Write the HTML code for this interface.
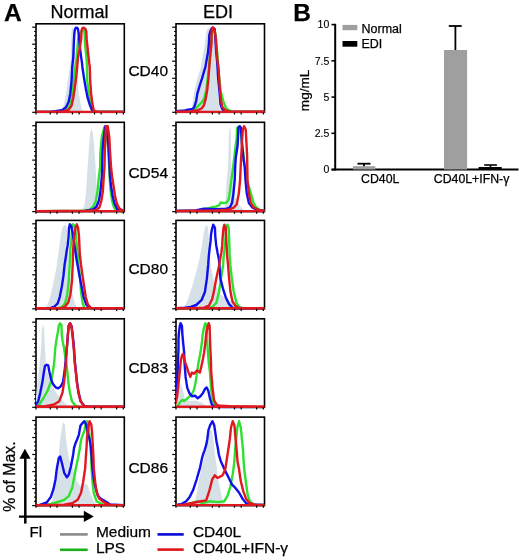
<!DOCTYPE html>
<html><head><meta charset="utf-8"><style>
html,body{margin:0;padding:0;background:#fff;}
body{width:520px;height:557px;overflow:hidden;}
svg{display:block;font-family:"Liberation Sans", sans-serif;filter:blur(0.3px);}
text{stroke:#000;stroke-width:0.25px;}
</style></head><body>
<svg width="520" height="557" viewBox="0 0 520 557">
<rect width="520" height="557" fill="#fff"/>
<clipPath id="c00"><rect x="36.0" y="23.8" width="88.3" height="89.9"/></clipPath>
<rect x="36.0" y="23.8" width="88.3" height="88.5" fill="none" stroke="#000" stroke-width="1.6"/>
<g clip-path="url(#c00)">
<polygon points="58.6,111.5 58.6,111.5 60.8,111.0 63.4,106.5 66.0,93.4 68.6,75.3 70.6,60.2 71.1,40.1 71.6,29.0 72.6,28.0 74.1,32.0 75.1,45.1 76.1,67.2 77.6,80.3 78.8,93.4 80.1,100.4 81.6,109.0 83.6,111.5 83.6,111.5" fill="#d6e1e7"/>
<polyline points="36.6,111.9 60.6,111.7 64.3,110.8 67.7,109.0 70.7,103.8 72.5,93.4 73.8,80.3 75.4,67.2 76.8,56.8 77.7,43.7 78.5,37.7 80.3,33.3 81.6,30.7 82.8,28.9 83.3,28.5 84.6,33.3 85.0,43.7 85.9,52.5 86.7,61.1 87.0,67.2 87.2,80.3 88.9,93.4 90.6,103.8 91.9,109.9 93.6,111.5 124.6,111.9" fill="none" stroke="#30e030" stroke-width="2.4" stroke-linejoin="round"/>
<polyline points="36.6,111.9 50.6,111.7 55.6,111.2 58.2,110.8 62.5,109.9 66.0,107.3 68.6,102.0 70.3,93.4 71.6,80.3 72.2,67.2 73.3,56.8 73.8,43.7 74.2,35.1 74.8,29.8 75.9,27.6 76.8,27.6 77.9,28.9 78.5,32.4 79.1,39.4 80.0,48.1 81.1,56.8 82.0,62.9 82.4,67.2 84.1,78.5 85.9,89.0 87.6,97.7 89.8,104.7 91.9,109.9 92.8,111.2 95.6,111.9 124.6,111.9" fill="none" stroke="#1010ec" stroke-width="2.4" stroke-linejoin="round"/>
<polyline points="36.6,111.9 60.6,111.8 64.3,111.2 68.6,109.9 71.6,105.6 73.3,97.7 74.6,89.0 76.4,76.0 77.2,67.2 78.1,56.8 79.8,48.1 81.1,39.4 81.6,30.7 82.4,28.1 83.7,27.6 85.4,28.9 86.3,31.5 86.7,39.4 87.6,48.1 88.5,56.8 89.3,63.7 89.8,67.2 90.2,80.3 91.1,93.4 92.4,103.8 93.7,109.9 95.4,111.2 97.6,111.9 125.6,111.9" fill="none" stroke="#e01820" stroke-width="2.4" stroke-linejoin="round"/>
<line x1="36.0" y1="111.9" x2="124.3" y2="111.9" stroke="#e01820" stroke-width="2.4"/>
</g>
<line x1="32.2" y1="112.3" x2="36.0" y2="112.3" stroke="#000" stroke-width="1.2"/>
<line x1="34.1" y1="108.0" x2="36.0" y2="108.0" stroke="#000" stroke-width="1.2"/>
<line x1="34.1" y1="103.8" x2="36.0" y2="103.8" stroke="#000" stroke-width="1.2"/>
<line x1="34.1" y1="99.5" x2="36.0" y2="99.5" stroke="#000" stroke-width="1.2"/>
<line x1="32.2" y1="95.3" x2="36.0" y2="95.3" stroke="#000" stroke-width="1.2"/>
<line x1="34.1" y1="91.0" x2="36.0" y2="91.0" stroke="#000" stroke-width="1.2"/>
<line x1="34.1" y1="86.8" x2="36.0" y2="86.8" stroke="#000" stroke-width="1.2"/>
<line x1="34.1" y1="82.5" x2="36.0" y2="82.5" stroke="#000" stroke-width="1.2"/>
<line x1="32.2" y1="78.3" x2="36.0" y2="78.3" stroke="#000" stroke-width="1.2"/>
<line x1="34.1" y1="74.0" x2="36.0" y2="74.0" stroke="#000" stroke-width="1.2"/>
<line x1="34.1" y1="69.8" x2="36.0" y2="69.8" stroke="#000" stroke-width="1.2"/>
<line x1="34.1" y1="65.5" x2="36.0" y2="65.5" stroke="#000" stroke-width="1.2"/>
<line x1="32.2" y1="61.2" x2="36.0" y2="61.2" stroke="#000" stroke-width="1.2"/>
<line x1="34.1" y1="57.0" x2="36.0" y2="57.0" stroke="#000" stroke-width="1.2"/>
<line x1="34.1" y1="52.7" x2="36.0" y2="52.7" stroke="#000" stroke-width="1.2"/>
<line x1="34.1" y1="48.5" x2="36.0" y2="48.5" stroke="#000" stroke-width="1.2"/>
<line x1="32.2" y1="44.2" x2="36.0" y2="44.2" stroke="#000" stroke-width="1.2"/>
<line x1="34.1" y1="40.0" x2="36.0" y2="40.0" stroke="#000" stroke-width="1.2"/>
<line x1="34.1" y1="35.7" x2="36.0" y2="35.7" stroke="#000" stroke-width="1.2"/>
<line x1="34.1" y1="31.5" x2="36.0" y2="31.5" stroke="#000" stroke-width="1.2"/>
<line x1="32.2" y1="27.2" x2="36.0" y2="27.2" stroke="#000" stroke-width="1.2"/>
<line x1="36.0" y1="112.3" x2="36.0" y2="114.5" stroke="#000" stroke-width="1.2"/>
<line x1="50.3" y1="112.3" x2="50.3" y2="114.5" stroke="#000" stroke-width="1.2"/>
<line x1="57.0" y1="112.3" x2="57.0" y2="114.5" stroke="#000" stroke-width="1.2"/>
<line x1="72.4" y1="112.3" x2="72.4" y2="114.5" stroke="#000" stroke-width="1.2"/>
<line x1="79.1" y1="112.3" x2="79.1" y2="114.5" stroke="#000" stroke-width="1.2"/>
<line x1="94.5" y1="112.3" x2="94.5" y2="114.5" stroke="#000" stroke-width="1.2"/>
<line x1="101.2" y1="112.3" x2="101.2" y2="114.5" stroke="#000" stroke-width="1.2"/>
<line x1="116.6" y1="112.3" x2="116.6" y2="114.5" stroke="#000" stroke-width="1.2"/>
<line x1="123.3" y1="112.3" x2="123.3" y2="114.5" stroke="#000" stroke-width="1.2"/>
<clipPath id="c01"><rect x="36.0" y="122.3" width="88.3" height="90.7"/></clipPath>
<rect x="36.0" y="122.3" width="88.3" height="89.3" fill="none" stroke="#000" stroke-width="1.6"/>
<g clip-path="url(#c01)">
<polygon points="80.0,210.8 80.0,210.8 83.0,207.9 84.1,206.8 85.8,195.0 87.4,170.0 88.5,155.3 89.1,145.0 90.2,133.1 91.6,128.9 92.8,133.1 94.0,145.0 95.0,158.4 95.7,170.0 97.4,195.0 98.2,206.8 99.5,210.8 100.5,210.8 100.5,210.8" fill="#d6e1e7"/>
<polyline points="36.0,211.2 84.6,210.7 89.4,209.7 92.8,207.3 95.7,201.5 97.6,190.7 99.0,176.1 100.2,166.4 100.3,155.9 100.8,147.3 101.6,138.5 103.0,132.1 104.5,127.0 105.6,126.2 106.8,127.0 107.3,138.2 108.0,147.3 108.6,157.4 109.2,166.4 109.6,176.1 110.6,190.7 112.0,200.5 113.9,207.3 116.3,210.2 118.3,211.1 124.0,211.2" fill="none" stroke="#30e030" stroke-width="2.4" stroke-linejoin="round"/>
<polyline points="36.0,211.2 85.0,210.9 89.4,210.2 93.8,209.2 96.6,206.3 99.0,200.5 100.5,190.7 101.9,176.1 102.2,166.4 102.3,160.4 102.5,151.6 103.4,140.2 104.2,134.1 105.1,126.6 106.2,126.0 107.2,127.0 107.7,138.5 108.5,147.3 109.2,157.7 109.5,166.4 110.0,176.1 111.0,185.8 112.5,195.5 114.4,203.3 117.3,209.2 120.2,210.7 124.0,211.2" fill="none" stroke="#1010ec" stroke-width="2.4" stroke-linejoin="round"/>
<polyline points="36.0,211.2 89.4,210.8 96.2,210.2 99.5,207.3 101.4,200.5 102.9,190.7 103.8,176.1 104.5,166.4 104.7,155.9 104.9,147.3 105.5,134.1 106.0,126.2 107.7,126.2 108.5,131.5 109.4,138.5 109.8,147.3 110.3,155.9 111.0,166.4 112.0,176.1 113.5,185.8 114.9,195.5 116.8,203.3 119.2,208.2 122.1,210.2 124.5,211.2" fill="none" stroke="#e01820" stroke-width="2.4" stroke-linejoin="round"/>
<line x1="36.0" y1="211.1" x2="124.3" y2="211.1" stroke="#e01820" stroke-width="2.4"/>
</g>
<line x1="32.2" y1="211.6" x2="36.0" y2="211.6" stroke="#000" stroke-width="1.2"/>
<line x1="34.1" y1="207.3" x2="36.0" y2="207.3" stroke="#000" stroke-width="1.2"/>
<line x1="34.1" y1="203.0" x2="36.0" y2="203.0" stroke="#000" stroke-width="1.2"/>
<line x1="34.1" y1="198.7" x2="36.0" y2="198.7" stroke="#000" stroke-width="1.2"/>
<line x1="32.2" y1="194.4" x2="36.0" y2="194.4" stroke="#000" stroke-width="1.2"/>
<line x1="34.1" y1="190.1" x2="36.0" y2="190.1" stroke="#000" stroke-width="1.2"/>
<line x1="34.1" y1="185.8" x2="36.0" y2="185.8" stroke="#000" stroke-width="1.2"/>
<line x1="34.1" y1="181.5" x2="36.0" y2="181.5" stroke="#000" stroke-width="1.2"/>
<line x1="32.2" y1="177.2" x2="36.0" y2="177.2" stroke="#000" stroke-width="1.2"/>
<line x1="34.1" y1="172.9" x2="36.0" y2="172.9" stroke="#000" stroke-width="1.2"/>
<line x1="34.1" y1="168.6" x2="36.0" y2="168.6" stroke="#000" stroke-width="1.2"/>
<line x1="34.1" y1="164.4" x2="36.0" y2="164.4" stroke="#000" stroke-width="1.2"/>
<line x1="32.2" y1="160.1" x2="36.0" y2="160.1" stroke="#000" stroke-width="1.2"/>
<line x1="34.1" y1="155.8" x2="36.0" y2="155.8" stroke="#000" stroke-width="1.2"/>
<line x1="34.1" y1="151.5" x2="36.0" y2="151.5" stroke="#000" stroke-width="1.2"/>
<line x1="34.1" y1="147.2" x2="36.0" y2="147.2" stroke="#000" stroke-width="1.2"/>
<line x1="32.2" y1="142.9" x2="36.0" y2="142.9" stroke="#000" stroke-width="1.2"/>
<line x1="34.1" y1="138.6" x2="36.0" y2="138.6" stroke="#000" stroke-width="1.2"/>
<line x1="34.1" y1="134.3" x2="36.0" y2="134.3" stroke="#000" stroke-width="1.2"/>
<line x1="34.1" y1="130.0" x2="36.0" y2="130.0" stroke="#000" stroke-width="1.2"/>
<line x1="32.2" y1="125.7" x2="36.0" y2="125.7" stroke="#000" stroke-width="1.2"/>
<line x1="36.0" y1="211.6" x2="36.0" y2="213.79999999999998" stroke="#000" stroke-width="1.2"/>
<line x1="50.3" y1="211.6" x2="50.3" y2="213.79999999999998" stroke="#000" stroke-width="1.2"/>
<line x1="57.0" y1="211.6" x2="57.0" y2="213.79999999999998" stroke="#000" stroke-width="1.2"/>
<line x1="72.4" y1="211.6" x2="72.4" y2="213.79999999999998" stroke="#000" stroke-width="1.2"/>
<line x1="79.1" y1="211.6" x2="79.1" y2="213.79999999999998" stroke="#000" stroke-width="1.2"/>
<line x1="94.5" y1="211.6" x2="94.5" y2="213.79999999999998" stroke="#000" stroke-width="1.2"/>
<line x1="101.2" y1="211.6" x2="101.2" y2="213.79999999999998" stroke="#000" stroke-width="1.2"/>
<line x1="116.6" y1="211.6" x2="116.6" y2="213.79999999999998" stroke="#000" stroke-width="1.2"/>
<line x1="123.3" y1="211.6" x2="123.3" y2="213.79999999999998" stroke="#000" stroke-width="1.2"/>
<clipPath id="c02"><rect x="36.0" y="220.4" width="88.3" height="89.80000000000001"/></clipPath>
<rect x="36.0" y="220.4" width="88.3" height="88.4" fill="none" stroke="#000" stroke-width="1.6"/>
<g clip-path="url(#c02)">
<polygon points="44.0,308.0 44.0,308.0 47.3,305.2 49.7,298.6 52.9,285.5 56.1,269.1 58.5,252.8 61.0,233.1 63.0,226.6 64.6,224.7 66.5,226.1 67.5,236.2 68.3,250.4 69.0,264.7 70.5,280.9 73.0,296.1 75.0,303.2 77.0,307.6 79.0,308.0 79.0,308.0" fill="#d6e1e7"/>
<polyline points="36.0,308.3 55.0,308.3 57.7,308.1 61.9,307.1 65.1,303.3 67.2,294.7 68.8,280.8 69.7,264.7 70.3,249.7 71.2,240.9 72.1,229.5 72.9,224.3 73.8,224.9 75.1,227.8 76.0,236.5 76.8,245.4 77.7,254.1 78.5,264.7 79.9,275.4 81.0,291.5 82.5,302.2 84.1,307.6 86.0,308.3 124.0,308.3" fill="none" stroke="#30e030" stroke-width="2.4" stroke-linejoin="round"/>
<polyline points="36.0,308.3 45.0,308.2 50.3,308.1 54.5,306.5 57.7,303.3 59.8,296.8 61.9,286.2 63.5,275.4 64.6,264.7 66.0,255.8 66.9,249.7 67.7,245.4 68.6,236.5 69.0,227.8 69.9,224.3 71.2,226.0 72.5,232.2 73.8,240.9 75.1,249.7 76.4,258.5 77.5,264.7 79.4,275.4 81.5,286.2 83.6,296.8 86.2,304.3 89.4,307.6 92.0,308.3 124.0,308.3" fill="none" stroke="#1010ec" stroke-width="2.4" stroke-linejoin="round"/>
<polyline points="36.0,308.3 58.0,308.3 60.9,308.1 65.1,306.5 68.3,302.2 70.4,294.7 72.0,280.8 72.7,264.7 72.9,254.1 73.4,245.4 74.2,236.5 75.5,227.8 76.8,224.3 78.1,227.8 79.0,236.5 79.4,245.4 79.8,254.1 81.0,264.7 82.5,275.4 84.1,286.2 85.7,296.8 87.8,304.3 90.5,307.6 93.0,308.3 124.5,308.3" fill="none" stroke="#e01820" stroke-width="2.4" stroke-linejoin="round"/>
<line x1="36.0" y1="308.3" x2="124.3" y2="308.3" stroke="#e01820" stroke-width="2.4"/>
</g>
<line x1="32.2" y1="308.8" x2="36.0" y2="308.8" stroke="#000" stroke-width="1.2"/>
<line x1="34.1" y1="304.6" x2="36.0" y2="304.6" stroke="#000" stroke-width="1.2"/>
<line x1="34.1" y1="300.3" x2="36.0" y2="300.3" stroke="#000" stroke-width="1.2"/>
<line x1="34.1" y1="296.1" x2="36.0" y2="296.1" stroke="#000" stroke-width="1.2"/>
<line x1="32.2" y1="291.8" x2="36.0" y2="291.8" stroke="#000" stroke-width="1.2"/>
<line x1="34.1" y1="287.6" x2="36.0" y2="287.6" stroke="#000" stroke-width="1.2"/>
<line x1="34.1" y1="283.3" x2="36.0" y2="283.3" stroke="#000" stroke-width="1.2"/>
<line x1="34.1" y1="279.1" x2="36.0" y2="279.1" stroke="#000" stroke-width="1.2"/>
<line x1="32.2" y1="274.8" x2="36.0" y2="274.8" stroke="#000" stroke-width="1.2"/>
<line x1="34.1" y1="270.6" x2="36.0" y2="270.6" stroke="#000" stroke-width="1.2"/>
<line x1="34.1" y1="266.3" x2="36.0" y2="266.3" stroke="#000" stroke-width="1.2"/>
<line x1="34.1" y1="262.1" x2="36.0" y2="262.1" stroke="#000" stroke-width="1.2"/>
<line x1="32.2" y1="257.8" x2="36.0" y2="257.8" stroke="#000" stroke-width="1.2"/>
<line x1="34.1" y1="253.6" x2="36.0" y2="253.6" stroke="#000" stroke-width="1.2"/>
<line x1="34.1" y1="249.3" x2="36.0" y2="249.3" stroke="#000" stroke-width="1.2"/>
<line x1="34.1" y1="245.1" x2="36.0" y2="245.1" stroke="#000" stroke-width="1.2"/>
<line x1="32.2" y1="240.8" x2="36.0" y2="240.8" stroke="#000" stroke-width="1.2"/>
<line x1="34.1" y1="236.6" x2="36.0" y2="236.6" stroke="#000" stroke-width="1.2"/>
<line x1="34.1" y1="232.3" x2="36.0" y2="232.3" stroke="#000" stroke-width="1.2"/>
<line x1="34.1" y1="228.1" x2="36.0" y2="228.1" stroke="#000" stroke-width="1.2"/>
<line x1="32.2" y1="223.8" x2="36.0" y2="223.8" stroke="#000" stroke-width="1.2"/>
<line x1="36.0" y1="308.8" x2="36.0" y2="311.0" stroke="#000" stroke-width="1.2"/>
<line x1="50.3" y1="308.8" x2="50.3" y2="311.0" stroke="#000" stroke-width="1.2"/>
<line x1="57.0" y1="308.8" x2="57.0" y2="311.0" stroke="#000" stroke-width="1.2"/>
<line x1="72.4" y1="308.8" x2="72.4" y2="311.0" stroke="#000" stroke-width="1.2"/>
<line x1="79.1" y1="308.8" x2="79.1" y2="311.0" stroke="#000" stroke-width="1.2"/>
<line x1="94.5" y1="308.8" x2="94.5" y2="311.0" stroke="#000" stroke-width="1.2"/>
<line x1="101.2" y1="308.8" x2="101.2" y2="311.0" stroke="#000" stroke-width="1.2"/>
<line x1="116.6" y1="308.8" x2="116.6" y2="311.0" stroke="#000" stroke-width="1.2"/>
<line x1="123.3" y1="308.8" x2="123.3" y2="311.0" stroke="#000" stroke-width="1.2"/>
<clipPath id="c03"><rect x="36.0" y="318.8" width="88.3" height="89.9"/></clipPath>
<rect x="36.0" y="318.8" width="88.3" height="88.5" fill="none" stroke="#000" stroke-width="1.6"/>
<g clip-path="url(#c03)">
<polygon points="36.0,406.5 36.0,406.5 36.0,396.0 37.5,380.8 39.8,362.5 41.1,347.7 41.9,330.1 43.0,323.3 44.1,330.1 45.0,347.7 45.8,362.5 47.0,370.6 50.0,380.8 55.0,390.9 60.0,398.0 65.0,403.1 70.0,406.5 72.0,406.5 72.0,406.5" fill="#d6e1e7"/>
<polyline points="36.0,406.8 37.1,406.6 39.2,404.5 43.5,398.0 47.7,390.5 50.9,382.0 53.0,371.3 54.3,361.5 55.3,347.7 56.6,338.9 57.9,331.9 58.8,325.8 60.1,323.2 61.4,324.9 61.8,334.5 62.7,341.5 64.0,347.7 64.8,353.7 66.2,361.5 67.3,371.3 68.3,382.0 69.9,392.6 72.0,401.2 75.2,405.5 79.4,406.9 124.0,406.9" fill="none" stroke="#30e030" stroke-width="2.4" stroke-linejoin="round"/>
<polyline points="35.5,405.5 38.2,401.2 40.3,392.6 42.4,382.0 44.0,371.3 45.0,365.9 46.6,364.8 48.2,365.4 49.3,371.3 50.9,378.7 53.0,384.1 55.6,387.3 58.3,388.4 60.9,386.2 63.0,382.0 64.6,371.3 65.7,360.5 66.6,350.3 67.4,341.5 67.9,334.5 68.7,325.8 70.0,323.2 71.5,325.8 72.5,332.8 73.4,341.5 74.2,350.3 74.8,360.5 75.9,371.3 77.0,382.0 78.6,392.6 80.7,401.2 83.9,405.5 86.8,406.8 124.0,406.8" fill="none" stroke="#1010ec" stroke-width="2.4" stroke-linejoin="round"/>
<polyline points="36.0,406.8 45.6,406.1 54.0,404.5 59.3,401.2 62.5,392.6 64.1,382.0 65.1,371.3 66.0,361.5 66.6,350.3 67.4,341.5 67.9,334.5 68.7,325.8 70.0,323.2 71.3,325.8 72.2,332.8 73.1,341.5 73.9,350.3 74.6,361.5 75.7,371.3 76.8,382.0 78.4,392.6 80.5,401.2 83.7,405.5 86.8,406.8 124.5,406.8" fill="none" stroke="#e01820" stroke-width="2.4" stroke-linejoin="round"/>
<line x1="36.0" y1="406.8" x2="124.3" y2="406.8" stroke="#e01820" stroke-width="2.4"/>
</g>
<line x1="32.2" y1="407.3" x2="36.0" y2="407.3" stroke="#000" stroke-width="1.2"/>
<line x1="34.1" y1="403.0" x2="36.0" y2="403.0" stroke="#000" stroke-width="1.2"/>
<line x1="34.1" y1="398.8" x2="36.0" y2="398.8" stroke="#000" stroke-width="1.2"/>
<line x1="34.1" y1="394.5" x2="36.0" y2="394.5" stroke="#000" stroke-width="1.2"/>
<line x1="32.2" y1="390.3" x2="36.0" y2="390.3" stroke="#000" stroke-width="1.2"/>
<line x1="34.1" y1="386.0" x2="36.0" y2="386.0" stroke="#000" stroke-width="1.2"/>
<line x1="34.1" y1="381.8" x2="36.0" y2="381.8" stroke="#000" stroke-width="1.2"/>
<line x1="34.1" y1="377.5" x2="36.0" y2="377.5" stroke="#000" stroke-width="1.2"/>
<line x1="32.2" y1="373.3" x2="36.0" y2="373.3" stroke="#000" stroke-width="1.2"/>
<line x1="34.1" y1="369.0" x2="36.0" y2="369.0" stroke="#000" stroke-width="1.2"/>
<line x1="34.1" y1="364.8" x2="36.0" y2="364.8" stroke="#000" stroke-width="1.2"/>
<line x1="34.1" y1="360.5" x2="36.0" y2="360.5" stroke="#000" stroke-width="1.2"/>
<line x1="32.2" y1="356.2" x2="36.0" y2="356.2" stroke="#000" stroke-width="1.2"/>
<line x1="34.1" y1="352.0" x2="36.0" y2="352.0" stroke="#000" stroke-width="1.2"/>
<line x1="34.1" y1="347.7" x2="36.0" y2="347.7" stroke="#000" stroke-width="1.2"/>
<line x1="34.1" y1="343.5" x2="36.0" y2="343.5" stroke="#000" stroke-width="1.2"/>
<line x1="32.2" y1="339.2" x2="36.0" y2="339.2" stroke="#000" stroke-width="1.2"/>
<line x1="34.1" y1="335.0" x2="36.0" y2="335.0" stroke="#000" stroke-width="1.2"/>
<line x1="34.1" y1="330.7" x2="36.0" y2="330.7" stroke="#000" stroke-width="1.2"/>
<line x1="34.1" y1="326.5" x2="36.0" y2="326.5" stroke="#000" stroke-width="1.2"/>
<line x1="32.2" y1="322.2" x2="36.0" y2="322.2" stroke="#000" stroke-width="1.2"/>
<line x1="36.0" y1="407.3" x2="36.0" y2="409.5" stroke="#000" stroke-width="1.2"/>
<line x1="50.3" y1="407.3" x2="50.3" y2="409.5" stroke="#000" stroke-width="1.2"/>
<line x1="57.0" y1="407.3" x2="57.0" y2="409.5" stroke="#000" stroke-width="1.2"/>
<line x1="72.4" y1="407.3" x2="72.4" y2="409.5" stroke="#000" stroke-width="1.2"/>
<line x1="79.1" y1="407.3" x2="79.1" y2="409.5" stroke="#000" stroke-width="1.2"/>
<line x1="94.5" y1="407.3" x2="94.5" y2="409.5" stroke="#000" stroke-width="1.2"/>
<line x1="101.2" y1="407.3" x2="101.2" y2="409.5" stroke="#000" stroke-width="1.2"/>
<line x1="116.6" y1="407.3" x2="116.6" y2="409.5" stroke="#000" stroke-width="1.2"/>
<line x1="123.3" y1="407.3" x2="123.3" y2="409.5" stroke="#000" stroke-width="1.2"/>
<clipPath id="c04"><rect x="36.0" y="417.1" width="88.3" height="89.9"/></clipPath>
<rect x="36.0" y="417.1" width="88.3" height="88.5" fill="none" stroke="#000" stroke-width="1.6"/>
<g clip-path="url(#c04)">
<polygon points="50.0,504.8 50.0,504.8 52.3,500.9 54.9,483.5 57.5,466.2 60.1,440.1 62.7,423.5 63.8,422.3 65.0,425.0 66.2,440.1 68.7,457.5 72.2,466.2 75.7,478.3 78.3,483.5 81.7,487.0 85.2,483.5 87.8,485.3 90.4,493.9 93.8,500.9 96.4,504.4 98.0,504.8 98.0,504.8" fill="#d6e1e7"/>
<polyline points="36.0,505.2 46.0,504.7 50.8,503.9 56.2,502.5 64.2,499.8 68.9,495.8 72.3,487.6 74.3,476.8 76.3,466.0 78.0,458.2 79.7,449.0 80.5,443.8 81.4,438.6 82.7,435.1 84.4,430.8 85.5,425.0 87.0,421.2 88.3,425.0 89.5,435.1 90.3,446.1 91.1,455.2 91.6,468.7 92.5,482.2 93.8,493.0 96.5,501.2 99.9,503.2 104.0,504.9 124.0,505.2" fill="none" stroke="#30e030" stroke-width="2.4" stroke-linejoin="round"/>
<polyline points="36.0,505.2 40.0,504.9 42.7,503.9 46.7,502.5 50.8,497.1 53.5,488.9 55.5,479.5 56.8,468.7 58.8,457.9 60.2,456.5 62.2,464.2 64.2,472.8 66.9,477.3 68.9,474.3 71.0,466.2 72.3,459.2 73.2,454.3 74.0,448.1 75.3,443.8 77.1,439.5 78.8,435.1 79.7,429.9 80.5,425.5 82.7,422.9 84.4,421.2 86.1,424.6 87.9,433.4 89.6,439.5 90.9,446.4 91.5,455.2 92.5,468.7 93.8,479.5 95.9,488.9 97.9,495.8 100.6,498.5 103.9,500.5 107.3,502.5 110.0,504.4 124.0,505.2" fill="none" stroke="#1010ec" stroke-width="2.4" stroke-linejoin="round"/>
<polyline points="36.0,505.2 64.2,504.7 72.3,503.2 77.7,499.8 81.0,493.0 83.1,482.2 85.1,468.7 86.0,455.2 86.6,446.4 87.0,437.7 87.9,429.1 89.6,421.2 91.3,424.6 92.2,433.4 92.6,442.1 93.1,450.8 93.5,458.2 93.8,468.7 95.2,482.2 96.5,491.6 99.2,498.5 103.3,501.8 107.3,503.9 111.0,505.0 124.5,505.2" fill="none" stroke="#e01820" stroke-width="2.4" stroke-linejoin="round"/>
<line x1="36.0" y1="505.1" x2="124.3" y2="505.1" stroke="#e01820" stroke-width="2.4"/>
</g>
<line x1="32.2" y1="505.6" x2="36.0" y2="505.6" stroke="#000" stroke-width="1.2"/>
<line x1="34.1" y1="501.3" x2="36.0" y2="501.3" stroke="#000" stroke-width="1.2"/>
<line x1="34.1" y1="497.1" x2="36.0" y2="497.1" stroke="#000" stroke-width="1.2"/>
<line x1="34.1" y1="492.8" x2="36.0" y2="492.8" stroke="#000" stroke-width="1.2"/>
<line x1="32.2" y1="488.6" x2="36.0" y2="488.6" stroke="#000" stroke-width="1.2"/>
<line x1="34.1" y1="484.3" x2="36.0" y2="484.3" stroke="#000" stroke-width="1.2"/>
<line x1="34.1" y1="480.1" x2="36.0" y2="480.1" stroke="#000" stroke-width="1.2"/>
<line x1="34.1" y1="475.8" x2="36.0" y2="475.8" stroke="#000" stroke-width="1.2"/>
<line x1="32.2" y1="471.6" x2="36.0" y2="471.6" stroke="#000" stroke-width="1.2"/>
<line x1="34.1" y1="467.3" x2="36.0" y2="467.3" stroke="#000" stroke-width="1.2"/>
<line x1="34.1" y1="463.1" x2="36.0" y2="463.1" stroke="#000" stroke-width="1.2"/>
<line x1="34.1" y1="458.8" x2="36.0" y2="458.8" stroke="#000" stroke-width="1.2"/>
<line x1="32.2" y1="454.5" x2="36.0" y2="454.5" stroke="#000" stroke-width="1.2"/>
<line x1="34.1" y1="450.3" x2="36.0" y2="450.3" stroke="#000" stroke-width="1.2"/>
<line x1="34.1" y1="446.0" x2="36.0" y2="446.0" stroke="#000" stroke-width="1.2"/>
<line x1="34.1" y1="441.8" x2="36.0" y2="441.8" stroke="#000" stroke-width="1.2"/>
<line x1="32.2" y1="437.5" x2="36.0" y2="437.5" stroke="#000" stroke-width="1.2"/>
<line x1="34.1" y1="433.3" x2="36.0" y2="433.3" stroke="#000" stroke-width="1.2"/>
<line x1="34.1" y1="429.0" x2="36.0" y2="429.0" stroke="#000" stroke-width="1.2"/>
<line x1="34.1" y1="424.8" x2="36.0" y2="424.8" stroke="#000" stroke-width="1.2"/>
<line x1="32.2" y1="420.5" x2="36.0" y2="420.5" stroke="#000" stroke-width="1.2"/>
<line x1="36.0" y1="505.6" x2="36.0" y2="507.8" stroke="#000" stroke-width="1.2"/>
<line x1="50.3" y1="505.6" x2="50.3" y2="507.8" stroke="#000" stroke-width="1.2"/>
<line x1="57.0" y1="505.6" x2="57.0" y2="507.8" stroke="#000" stroke-width="1.2"/>
<line x1="72.4" y1="505.6" x2="72.4" y2="507.8" stroke="#000" stroke-width="1.2"/>
<line x1="79.1" y1="505.6" x2="79.1" y2="507.8" stroke="#000" stroke-width="1.2"/>
<line x1="94.5" y1="505.6" x2="94.5" y2="507.8" stroke="#000" stroke-width="1.2"/>
<line x1="101.2" y1="505.6" x2="101.2" y2="507.8" stroke="#000" stroke-width="1.2"/>
<line x1="116.6" y1="505.6" x2="116.6" y2="507.8" stroke="#000" stroke-width="1.2"/>
<line x1="123.3" y1="505.6" x2="123.3" y2="507.8" stroke="#000" stroke-width="1.2"/>
<clipPath id="c10"><rect x="176.0" y="23.8" width="88.5" height="89.9"/></clipPath>
<rect x="176.0" y="23.8" width="88.5" height="88.5" fill="none" stroke="#000" stroke-width="1.6"/>
<g clip-path="url(#c10)">
<polygon points="188.0,111.5 188.0,111.5 191.5,109.0 192.7,102.0 194.4,90.4 197.3,78.8 200.8,67.2 202.1,58.5 204.3,48.1 206.4,31.5 208.0,28.5 210.0,28.0 212.0,30.0 214.0,40.1 215.5,55.2 216.5,67.2 217.5,80.3 218.2,95.4 219.0,105.5 220.5,110.5 222.0,111.5 222.0,111.5" fill="#d6e1e7"/>
<polyline points="176.7,111.8 192.7,111.5 197.4,106.7 199.7,104.4 201.7,102.4 204.2,98.4 206.2,90.4 207.7,78.3 209.0,67.2 210.2,52.2 211.2,40.1 212.2,30.0 213.0,28.0 214.7,29.0 216.2,40.1 217.2,52.2 218.2,67.2 219.3,78.8 220.5,90.4 222.2,97.4 224.0,103.3 226.3,108.5 229.2,110.5 232.7,111.7 264.7,111.8" fill="none" stroke="#30e030" stroke-width="2.4" stroke-linejoin="round"/>
<polyline points="176.0,111.3 185.0,110.5 188.1,109.6 192.7,109.0 194.4,106.7 196.2,100.9 197.3,93.9 199.6,85.9 201.9,78.8 204.2,70.8 205.4,67.2 206.4,61.1 208.0,52.5 208.9,43.7 209.3,35.1 210.6,30.7 211.9,28.0 212.8,27.6 214.5,28.9 215.4,39.4 216.2,52.5 217.1,61.1 217.5,67.2 218.2,78.8 219.4,90.4 220.5,104.4 222.2,109.0 224.7,111.0 228.7,111.8 264.7,111.9" fill="none" stroke="#1010ec" stroke-width="2.4" stroke-linejoin="round"/>
<polyline points="176.7,111.8 190.7,111.5 198.0,110.2 201.5,108.5 203.8,105.6 205.5,99.7 207.2,90.4 208.4,78.8 209.3,67.2 209.7,61.1 210.6,52.5 211.5,43.7 211.5,35.1 211.9,28.1 212.8,27.4 214.5,28.9 215.8,39.4 216.7,52.5 217.5,61.1 218.4,67.2 219.2,78.8 220.0,90.4 220.9,99.7 222.2,106.7 225.1,110.2 229.2,111.4 264.7,111.8" fill="none" stroke="#e01820" stroke-width="2.4" stroke-linejoin="round"/>
<line x1="176.0" y1="111.9" x2="264.5" y2="111.9" stroke="#e01820" stroke-width="2.4"/>
</g>
<line x1="172.2" y1="112.3" x2="176.0" y2="112.3" stroke="#000" stroke-width="1.2"/>
<line x1="174.1" y1="108.0" x2="176.0" y2="108.0" stroke="#000" stroke-width="1.2"/>
<line x1="174.1" y1="103.8" x2="176.0" y2="103.8" stroke="#000" stroke-width="1.2"/>
<line x1="174.1" y1="99.5" x2="176.0" y2="99.5" stroke="#000" stroke-width="1.2"/>
<line x1="172.2" y1="95.3" x2="176.0" y2="95.3" stroke="#000" stroke-width="1.2"/>
<line x1="174.1" y1="91.0" x2="176.0" y2="91.0" stroke="#000" stroke-width="1.2"/>
<line x1="174.1" y1="86.8" x2="176.0" y2="86.8" stroke="#000" stroke-width="1.2"/>
<line x1="174.1" y1="82.5" x2="176.0" y2="82.5" stroke="#000" stroke-width="1.2"/>
<line x1="172.2" y1="78.3" x2="176.0" y2="78.3" stroke="#000" stroke-width="1.2"/>
<line x1="174.1" y1="74.0" x2="176.0" y2="74.0" stroke="#000" stroke-width="1.2"/>
<line x1="174.1" y1="69.8" x2="176.0" y2="69.8" stroke="#000" stroke-width="1.2"/>
<line x1="174.1" y1="65.5" x2="176.0" y2="65.5" stroke="#000" stroke-width="1.2"/>
<line x1="172.2" y1="61.2" x2="176.0" y2="61.2" stroke="#000" stroke-width="1.2"/>
<line x1="174.1" y1="57.0" x2="176.0" y2="57.0" stroke="#000" stroke-width="1.2"/>
<line x1="174.1" y1="52.7" x2="176.0" y2="52.7" stroke="#000" stroke-width="1.2"/>
<line x1="174.1" y1="48.5" x2="176.0" y2="48.5" stroke="#000" stroke-width="1.2"/>
<line x1="172.2" y1="44.2" x2="176.0" y2="44.2" stroke="#000" stroke-width="1.2"/>
<line x1="174.1" y1="40.0" x2="176.0" y2="40.0" stroke="#000" stroke-width="1.2"/>
<line x1="174.1" y1="35.7" x2="176.0" y2="35.7" stroke="#000" stroke-width="1.2"/>
<line x1="174.1" y1="31.5" x2="176.0" y2="31.5" stroke="#000" stroke-width="1.2"/>
<line x1="172.2" y1="27.2" x2="176.0" y2="27.2" stroke="#000" stroke-width="1.2"/>
<line x1="176.0" y1="112.3" x2="176.0" y2="114.5" stroke="#000" stroke-width="1.2"/>
<line x1="190.3" y1="112.3" x2="190.3" y2="114.5" stroke="#000" stroke-width="1.2"/>
<line x1="197.0" y1="112.3" x2="197.0" y2="114.5" stroke="#000" stroke-width="1.2"/>
<line x1="212.4" y1="112.3" x2="212.4" y2="114.5" stroke="#000" stroke-width="1.2"/>
<line x1="219.1" y1="112.3" x2="219.1" y2="114.5" stroke="#000" stroke-width="1.2"/>
<line x1="234.5" y1="112.3" x2="234.5" y2="114.5" stroke="#000" stroke-width="1.2"/>
<line x1="241.2" y1="112.3" x2="241.2" y2="114.5" stroke="#000" stroke-width="1.2"/>
<line x1="256.6" y1="112.3" x2="256.6" y2="114.5" stroke="#000" stroke-width="1.2"/>
<line x1="263.3" y1="112.3" x2="263.3" y2="114.5" stroke="#000" stroke-width="1.2"/>
<clipPath id="c11"><rect x="176.0" y="122.3" width="88.5" height="90.7"/></clipPath>
<rect x="176.0" y="122.3" width="88.5" height="89.3" fill="none" stroke="#000" stroke-width="1.6"/>
<g clip-path="url(#c11)">
<polygon points="224.0,210.8 224.0,210.8 225.3,204.5 226.0,193.6 226.6,180.6 228.2,166.4 228.5,150.3 228.7,138.5 229.3,130.1 230.0,127.6 230.6,130.1 230.8,138.5 231.2,166.4 233.0,185.6 236.0,198.8 240.0,205.8 244.0,210.4 246.0,210.8 246.0,210.8" fill="#d6e1e7"/>
<polyline points="176.7,210.9 195.7,210.6 201.1,209.9 206.5,208.6 211.9,207.3 215.9,206.6 219.3,205.2 220.6,202.5 224.0,203.1 226.7,202.5 228.7,199.1 230.0,190.9 231.4,180.1 233.2,166.4 234.5,155.9 235.4,147.3 236.7,138.5 237.1,128.1 238.7,126.5 240.2,127.0 241.2,136.1 242.2,145.2 243.2,152.3 244.7,166.4 246.7,180.1 250.9,193.6 253.6,203.1 256.3,207.3 259.7,209.9 264.7,210.9" fill="none" stroke="#30e030" stroke-width="2.4" stroke-linejoin="round"/>
<polyline points="176.7,210.9 195.7,210.4 203.8,208.6 215.9,209.3 226.7,208.6 230.0,207.3 232.0,203.1 233.4,193.6 234.7,180.1 235.2,166.4 235.8,157.7 236.7,151.6 237.6,145.4 238.0,138.5 238.4,128.0 239.7,126.2 241.0,128.0 241.5,136.7 241.9,142.8 242.8,151.6 243.6,160.3 244.7,166.4 245.5,180.1 246.8,193.6 248.9,203.1 252.2,207.3 256.3,209.3 260.7,210.4 264.7,210.9" fill="none" stroke="#1010ec" stroke-width="2.4" stroke-linejoin="round"/>
<polyline points="176.7,210.9 215.9,210.4 228.0,209.7 233.4,207.9 236.7,204.5 238.8,193.6 240.1,180.1 240.7,166.4 241.0,160.3 241.5,151.6 241.9,142.8 242.8,129.8 244.1,126.2 245.8,129.8 246.2,138.5 246.7,147.3 247.1,155.9 247.3,166.4 247.5,180.1 248.9,193.6 250.9,203.1 253.6,207.3 259.0,210.2 265.2,210.9" fill="none" stroke="#e01820" stroke-width="2.4" stroke-linejoin="round"/>
<line x1="176.0" y1="211.1" x2="264.5" y2="211.1" stroke="#e01820" stroke-width="2.4"/>
</g>
<line x1="172.2" y1="211.6" x2="176.0" y2="211.6" stroke="#000" stroke-width="1.2"/>
<line x1="174.1" y1="207.3" x2="176.0" y2="207.3" stroke="#000" stroke-width="1.2"/>
<line x1="174.1" y1="203.0" x2="176.0" y2="203.0" stroke="#000" stroke-width="1.2"/>
<line x1="174.1" y1="198.7" x2="176.0" y2="198.7" stroke="#000" stroke-width="1.2"/>
<line x1="172.2" y1="194.4" x2="176.0" y2="194.4" stroke="#000" stroke-width="1.2"/>
<line x1="174.1" y1="190.1" x2="176.0" y2="190.1" stroke="#000" stroke-width="1.2"/>
<line x1="174.1" y1="185.8" x2="176.0" y2="185.8" stroke="#000" stroke-width="1.2"/>
<line x1="174.1" y1="181.5" x2="176.0" y2="181.5" stroke="#000" stroke-width="1.2"/>
<line x1="172.2" y1="177.2" x2="176.0" y2="177.2" stroke="#000" stroke-width="1.2"/>
<line x1="174.1" y1="172.9" x2="176.0" y2="172.9" stroke="#000" stroke-width="1.2"/>
<line x1="174.1" y1="168.6" x2="176.0" y2="168.6" stroke="#000" stroke-width="1.2"/>
<line x1="174.1" y1="164.4" x2="176.0" y2="164.4" stroke="#000" stroke-width="1.2"/>
<line x1="172.2" y1="160.1" x2="176.0" y2="160.1" stroke="#000" stroke-width="1.2"/>
<line x1="174.1" y1="155.8" x2="176.0" y2="155.8" stroke="#000" stroke-width="1.2"/>
<line x1="174.1" y1="151.5" x2="176.0" y2="151.5" stroke="#000" stroke-width="1.2"/>
<line x1="174.1" y1="147.2" x2="176.0" y2="147.2" stroke="#000" stroke-width="1.2"/>
<line x1="172.2" y1="142.9" x2="176.0" y2="142.9" stroke="#000" stroke-width="1.2"/>
<line x1="174.1" y1="138.6" x2="176.0" y2="138.6" stroke="#000" stroke-width="1.2"/>
<line x1="174.1" y1="134.3" x2="176.0" y2="134.3" stroke="#000" stroke-width="1.2"/>
<line x1="174.1" y1="130.0" x2="176.0" y2="130.0" stroke="#000" stroke-width="1.2"/>
<line x1="172.2" y1="125.7" x2="176.0" y2="125.7" stroke="#000" stroke-width="1.2"/>
<line x1="176.0" y1="211.6" x2="176.0" y2="213.79999999999998" stroke="#000" stroke-width="1.2"/>
<line x1="190.3" y1="211.6" x2="190.3" y2="213.79999999999998" stroke="#000" stroke-width="1.2"/>
<line x1="197.0" y1="211.6" x2="197.0" y2="213.79999999999998" stroke="#000" stroke-width="1.2"/>
<line x1="212.4" y1="211.6" x2="212.4" y2="213.79999999999998" stroke="#000" stroke-width="1.2"/>
<line x1="219.1" y1="211.6" x2="219.1" y2="213.79999999999998" stroke="#000" stroke-width="1.2"/>
<line x1="234.5" y1="211.6" x2="234.5" y2="213.79999999999998" stroke="#000" stroke-width="1.2"/>
<line x1="241.2" y1="211.6" x2="241.2" y2="213.79999999999998" stroke="#000" stroke-width="1.2"/>
<line x1="256.6" y1="211.6" x2="256.6" y2="213.79999999999998" stroke="#000" stroke-width="1.2"/>
<line x1="263.3" y1="211.6" x2="263.3" y2="213.79999999999998" stroke="#000" stroke-width="1.2"/>
<clipPath id="c12"><rect x="176.0" y="220.4" width="88.5" height="89.80000000000001"/></clipPath>
<rect x="176.0" y="220.4" width="88.5" height="88.4" fill="none" stroke="#000" stroke-width="1.6"/>
<g clip-path="url(#c12)">
<polygon points="181.0,308.0 181.0,308.0 183.6,306.8 186.1,303.5 189.3,295.3 192.5,285.5 195.7,274.0 199.0,260.9 202.2,244.6 203.8,233.1 205.5,226.1 206.7,225.1 208.0,228.1 209.0,240.3 209.5,255.5 210.5,264.7 214.0,280.9 220.0,294.1 228.0,300.2 236.0,303.2 242.0,306.3 247.0,308.0 247.0,308.0" fill="#d6e1e7"/>
<polyline points="176.0,308.4 200.0,308.4 206.9,308.3 212.3,307.0 216.3,302.9 219.0,292.0 221.0,278.4 223.2,264.7 223.5,258.5 224.4,249.7 225.3,240.9 226.1,227.8 227.4,224.7 228.7,227.8 229.2,240.9 229.6,254.1 230.3,264.7 231.8,278.4 233.8,292.0 236.5,302.9 239.2,307.0 243.0,308.3 264.5,308.4" fill="none" stroke="#30e030" stroke-width="2.4" stroke-linejoin="round"/>
<polyline points="176.0,308.3 185.0,307.8 190.8,307.0 196.2,305.0 201.5,300.2 204.9,292.0 206.9,278.4 208.2,264.7 208.8,255.8 209.7,247.9 210.6,240.9 211.0,234.8 211.9,229.5 213.2,224.7 214.9,227.8 215.3,236.5 216.2,245.4 217.5,252.4 218.8,258.5 219.4,264.7 220.4,278.4 223.1,289.2 225.8,297.4 229.1,304.2 233.2,308.3 264.0,308.3" fill="none" stroke="#1010ec" stroke-width="2.4" stroke-linejoin="round"/>
<polyline points="176.0,308.4 193.5,308.1 204.2,307.7 208.9,305.7 212.3,298.8 214.3,289.2 216.3,278.4 219.3,264.7 220.1,259.4 221.4,252.4 222.2,245.4 222.7,236.5 223.5,227.8 224.4,224.7 225.7,227.8 226.1,236.5 226.6,245.4 227.0,254.1 228.0,264.7 229.1,278.4 230.5,292.0 232.5,301.5 235.2,305.7 239.2,308.1 264.5,308.4" fill="none" stroke="#e01820" stroke-width="2.4" stroke-linejoin="round"/>
<line x1="176.0" y1="308.3" x2="264.5" y2="308.3" stroke="#e01820" stroke-width="2.4"/>
</g>
<line x1="172.2" y1="308.8" x2="176.0" y2="308.8" stroke="#000" stroke-width="1.2"/>
<line x1="174.1" y1="304.6" x2="176.0" y2="304.6" stroke="#000" stroke-width="1.2"/>
<line x1="174.1" y1="300.3" x2="176.0" y2="300.3" stroke="#000" stroke-width="1.2"/>
<line x1="174.1" y1="296.1" x2="176.0" y2="296.1" stroke="#000" stroke-width="1.2"/>
<line x1="172.2" y1="291.8" x2="176.0" y2="291.8" stroke="#000" stroke-width="1.2"/>
<line x1="174.1" y1="287.6" x2="176.0" y2="287.6" stroke="#000" stroke-width="1.2"/>
<line x1="174.1" y1="283.3" x2="176.0" y2="283.3" stroke="#000" stroke-width="1.2"/>
<line x1="174.1" y1="279.1" x2="176.0" y2="279.1" stroke="#000" stroke-width="1.2"/>
<line x1="172.2" y1="274.8" x2="176.0" y2="274.8" stroke="#000" stroke-width="1.2"/>
<line x1="174.1" y1="270.6" x2="176.0" y2="270.6" stroke="#000" stroke-width="1.2"/>
<line x1="174.1" y1="266.3" x2="176.0" y2="266.3" stroke="#000" stroke-width="1.2"/>
<line x1="174.1" y1="262.1" x2="176.0" y2="262.1" stroke="#000" stroke-width="1.2"/>
<line x1="172.2" y1="257.8" x2="176.0" y2="257.8" stroke="#000" stroke-width="1.2"/>
<line x1="174.1" y1="253.6" x2="176.0" y2="253.6" stroke="#000" stroke-width="1.2"/>
<line x1="174.1" y1="249.3" x2="176.0" y2="249.3" stroke="#000" stroke-width="1.2"/>
<line x1="174.1" y1="245.1" x2="176.0" y2="245.1" stroke="#000" stroke-width="1.2"/>
<line x1="172.2" y1="240.8" x2="176.0" y2="240.8" stroke="#000" stroke-width="1.2"/>
<line x1="174.1" y1="236.6" x2="176.0" y2="236.6" stroke="#000" stroke-width="1.2"/>
<line x1="174.1" y1="232.3" x2="176.0" y2="232.3" stroke="#000" stroke-width="1.2"/>
<line x1="174.1" y1="228.1" x2="176.0" y2="228.1" stroke="#000" stroke-width="1.2"/>
<line x1="172.2" y1="223.8" x2="176.0" y2="223.8" stroke="#000" stroke-width="1.2"/>
<line x1="176.0" y1="308.8" x2="176.0" y2="311.0" stroke="#000" stroke-width="1.2"/>
<line x1="190.3" y1="308.8" x2="190.3" y2="311.0" stroke="#000" stroke-width="1.2"/>
<line x1="197.0" y1="308.8" x2="197.0" y2="311.0" stroke="#000" stroke-width="1.2"/>
<line x1="212.4" y1="308.8" x2="212.4" y2="311.0" stroke="#000" stroke-width="1.2"/>
<line x1="219.1" y1="308.8" x2="219.1" y2="311.0" stroke="#000" stroke-width="1.2"/>
<line x1="234.5" y1="308.8" x2="234.5" y2="311.0" stroke="#000" stroke-width="1.2"/>
<line x1="241.2" y1="308.8" x2="241.2" y2="311.0" stroke="#000" stroke-width="1.2"/>
<line x1="256.6" y1="308.8" x2="256.6" y2="311.0" stroke="#000" stroke-width="1.2"/>
<line x1="263.3" y1="308.8" x2="263.3" y2="311.0" stroke="#000" stroke-width="1.2"/>
<clipPath id="c13"><rect x="176.0" y="318.8" width="88.5" height="89.9"/></clipPath>
<rect x="176.0" y="318.8" width="88.5" height="88.5" fill="none" stroke="#000" stroke-width="1.6"/>
<g clip-path="url(#c13)">
<polygon points="176.0,406.5 176.0,406.5 177.0,396.0 179.0,385.8 181.0,383.8 183.0,390.9 185.0,399.0 190.0,401.0 196.0,400.4 201.4,402.5 206.7,405.8 210.0,406.5 212.0,406.5 212.0,406.5" fill="#d6e1e7"/>
<polyline points="176.0,407.1 177.6,405.8 179.8,402.5 182.4,399.9 184.0,401.0 186.1,399.4 188.7,397.2 191.9,394.0 194.0,389.7 195.6,382.2 197.2,371.6 198.8,360.8 199.9,355.5 200.5,352.0 201.8,343.3 202.7,334.5 204.0,327.5 205.3,323.2 206.6,325.8 207.0,338.9 207.9,352.0 208.7,362.5 209.9,371.6 211.0,387.6 212.5,400.4 215.2,405.3 219.4,406.9 264.0,407.1" fill="none" stroke="#30e030" stroke-width="2.4" stroke-linejoin="round"/>
<polyline points="175.5,401.0 176.6,387.6 177.5,375.7 178.0,362.5 178.5,347.7 178.5,338.9 178.9,332.8 179.8,325.8 180.6,323.2 181.9,325.8 182.4,334.5 183.2,343.3 184.1,352.0 184.5,362.5 185.6,376.9 187.2,387.6 189.3,392.9 191.9,396.2 195.1,395.7 197.7,398.3 200.4,396.2 203.0,392.9 205.1,388.7 206.7,387.6 208.3,390.8 209.9,398.3 212.0,404.8 215.2,406.9 220.0,407.1 264.0,407.1" fill="none" stroke="#1010ec" stroke-width="2.4" stroke-linejoin="round"/>
<polyline points="175.5,403.7 177.1,396.2 178.7,382.2 179.8,371.6 180.8,360.8 182.0,355.5 183.0,353.9 185.0,361.8 186.6,366.2 188.2,371.6 190.3,376.9 191.9,372.6 194.0,373.7 197.2,370.4 199.9,372.6 201.4,366.2 203.0,358.7 204.1,352.4 205.3,343.3 206.1,334.5 207.4,327.5 208.7,323.2 209.6,325.8 210.0,338.9 210.5,352.0 211.0,362.5 211.2,371.6 212.5,387.6 214.1,400.4 216.8,404.8 220.5,405.8 230.0,406.3 264.5,406.8" fill="none" stroke="#e01820" stroke-width="2.4" stroke-linejoin="round"/>
<line x1="176.0" y1="406.8" x2="264.5" y2="406.8" stroke="#e01820" stroke-width="2.4"/>
</g>
<line x1="172.2" y1="407.3" x2="176.0" y2="407.3" stroke="#000" stroke-width="1.2"/>
<line x1="174.1" y1="403.0" x2="176.0" y2="403.0" stroke="#000" stroke-width="1.2"/>
<line x1="174.1" y1="398.8" x2="176.0" y2="398.8" stroke="#000" stroke-width="1.2"/>
<line x1="174.1" y1="394.5" x2="176.0" y2="394.5" stroke="#000" stroke-width="1.2"/>
<line x1="172.2" y1="390.3" x2="176.0" y2="390.3" stroke="#000" stroke-width="1.2"/>
<line x1="174.1" y1="386.0" x2="176.0" y2="386.0" stroke="#000" stroke-width="1.2"/>
<line x1="174.1" y1="381.8" x2="176.0" y2="381.8" stroke="#000" stroke-width="1.2"/>
<line x1="174.1" y1="377.5" x2="176.0" y2="377.5" stroke="#000" stroke-width="1.2"/>
<line x1="172.2" y1="373.3" x2="176.0" y2="373.3" stroke="#000" stroke-width="1.2"/>
<line x1="174.1" y1="369.0" x2="176.0" y2="369.0" stroke="#000" stroke-width="1.2"/>
<line x1="174.1" y1="364.8" x2="176.0" y2="364.8" stroke="#000" stroke-width="1.2"/>
<line x1="174.1" y1="360.5" x2="176.0" y2="360.5" stroke="#000" stroke-width="1.2"/>
<line x1="172.2" y1="356.2" x2="176.0" y2="356.2" stroke="#000" stroke-width="1.2"/>
<line x1="174.1" y1="352.0" x2="176.0" y2="352.0" stroke="#000" stroke-width="1.2"/>
<line x1="174.1" y1="347.7" x2="176.0" y2="347.7" stroke="#000" stroke-width="1.2"/>
<line x1="174.1" y1="343.5" x2="176.0" y2="343.5" stroke="#000" stroke-width="1.2"/>
<line x1="172.2" y1="339.2" x2="176.0" y2="339.2" stroke="#000" stroke-width="1.2"/>
<line x1="174.1" y1="335.0" x2="176.0" y2="335.0" stroke="#000" stroke-width="1.2"/>
<line x1="174.1" y1="330.7" x2="176.0" y2="330.7" stroke="#000" stroke-width="1.2"/>
<line x1="174.1" y1="326.5" x2="176.0" y2="326.5" stroke="#000" stroke-width="1.2"/>
<line x1="172.2" y1="322.2" x2="176.0" y2="322.2" stroke="#000" stroke-width="1.2"/>
<line x1="176.0" y1="407.3" x2="176.0" y2="409.5" stroke="#000" stroke-width="1.2"/>
<line x1="190.3" y1="407.3" x2="190.3" y2="409.5" stroke="#000" stroke-width="1.2"/>
<line x1="197.0" y1="407.3" x2="197.0" y2="409.5" stroke="#000" stroke-width="1.2"/>
<line x1="212.4" y1="407.3" x2="212.4" y2="409.5" stroke="#000" stroke-width="1.2"/>
<line x1="219.1" y1="407.3" x2="219.1" y2="409.5" stroke="#000" stroke-width="1.2"/>
<line x1="234.5" y1="407.3" x2="234.5" y2="409.5" stroke="#000" stroke-width="1.2"/>
<line x1="241.2" y1="407.3" x2="241.2" y2="409.5" stroke="#000" stroke-width="1.2"/>
<line x1="256.6" y1="407.3" x2="256.6" y2="409.5" stroke="#000" stroke-width="1.2"/>
<line x1="263.3" y1="407.3" x2="263.3" y2="409.5" stroke="#000" stroke-width="1.2"/>
<clipPath id="c14"><rect x="176.0" y="417.1" width="88.5" height="89.9"/></clipPath>
<rect x="176.0" y="417.1" width="88.5" height="88.5" fill="none" stroke="#000" stroke-width="1.6"/>
<g clip-path="url(#c14)">
<polygon points="191.0,504.8 191.0,504.8 193.5,502.4 195.5,498.9 198.7,482.0 201.0,470.2 204.4,457.6 206.5,446.1 208.5,436.1 210.5,429.6 212.0,431.1 213.2,438.1 214.0,445.1 215.0,455.2 216.5,465.2 218.3,480.3 220.5,490.3 222.6,500.9 225.0,504.8 225.0,504.8" fill="#d6e1e7"/>
<polyline points="176.0,504.9 185.4,504.7 197.5,501.3 202.7,503.0 209.6,501.3 218.3,502.1 224.3,501.3 227.8,495.2 230.4,486.5 233.0,472.6 234.4,461.2 235.0,450.8 236.2,439.2 237.3,427.5 239.0,421.2 240.8,427.5 241.9,439.2 243.1,450.8 243.6,461.2 244.2,469.0 246.0,483.0 247.7,495.2 250.3,502.1 254.6,504.7 264.5,504.9" fill="none" stroke="#30e030" stroke-width="2.4" stroke-linejoin="round"/>
<polyline points="176.0,504.9 178.0,504.7 181.9,503.9 186.2,501.3 189.7,496.9 193.2,489.9 196.6,479.5 200.1,467.3 202.0,458.2 203.5,453.2 204.4,450.8 206.2,444.9 207.3,439.2 208.5,429.9 210.2,425.2 212.5,421.2 214.2,425.2 215.4,433.4 216.5,441.5 217.7,447.3 218.8,454.3 220.5,460.2 221.7,463.2 225.2,470.8 228.7,477.8 232.1,484.7 235.6,488.2 239.0,492.5 242.5,498.7 246.0,503.0 249.4,504.7 264.0,504.9" fill="none" stroke="#1010ec" stroke-width="2.4" stroke-linejoin="round"/>
<polyline points="176.0,504.9 183.7,504.7 192.3,503.0 201.0,501.3 206.2,500.4 209.6,489.9 212.2,479.5 214.8,475.3 217.4,477.8 220.0,476.8 222.6,475.3 225.2,469.7 226.5,461.2 228.1,450.8 229.8,439.2 231.0,427.5 232.7,421.2 234.4,425.2 235.6,439.2 236.7,450.8 237.5,461.2 239.0,469.0 240.8,481.3 243.4,491.6 246.0,498.7 249.4,503.0 254.6,504.7 264.5,504.9" fill="none" stroke="#e01820" stroke-width="2.4" stroke-linejoin="round"/>
<line x1="176.0" y1="505.1" x2="264.5" y2="505.1" stroke="#e01820" stroke-width="2.4"/>
</g>
<line x1="172.2" y1="505.6" x2="176.0" y2="505.6" stroke="#000" stroke-width="1.2"/>
<line x1="174.1" y1="501.3" x2="176.0" y2="501.3" stroke="#000" stroke-width="1.2"/>
<line x1="174.1" y1="497.1" x2="176.0" y2="497.1" stroke="#000" stroke-width="1.2"/>
<line x1="174.1" y1="492.8" x2="176.0" y2="492.8" stroke="#000" stroke-width="1.2"/>
<line x1="172.2" y1="488.6" x2="176.0" y2="488.6" stroke="#000" stroke-width="1.2"/>
<line x1="174.1" y1="484.3" x2="176.0" y2="484.3" stroke="#000" stroke-width="1.2"/>
<line x1="174.1" y1="480.1" x2="176.0" y2="480.1" stroke="#000" stroke-width="1.2"/>
<line x1="174.1" y1="475.8" x2="176.0" y2="475.8" stroke="#000" stroke-width="1.2"/>
<line x1="172.2" y1="471.6" x2="176.0" y2="471.6" stroke="#000" stroke-width="1.2"/>
<line x1="174.1" y1="467.3" x2="176.0" y2="467.3" stroke="#000" stroke-width="1.2"/>
<line x1="174.1" y1="463.1" x2="176.0" y2="463.1" stroke="#000" stroke-width="1.2"/>
<line x1="174.1" y1="458.8" x2="176.0" y2="458.8" stroke="#000" stroke-width="1.2"/>
<line x1="172.2" y1="454.5" x2="176.0" y2="454.5" stroke="#000" stroke-width="1.2"/>
<line x1="174.1" y1="450.3" x2="176.0" y2="450.3" stroke="#000" stroke-width="1.2"/>
<line x1="174.1" y1="446.0" x2="176.0" y2="446.0" stroke="#000" stroke-width="1.2"/>
<line x1="174.1" y1="441.8" x2="176.0" y2="441.8" stroke="#000" stroke-width="1.2"/>
<line x1="172.2" y1="437.5" x2="176.0" y2="437.5" stroke="#000" stroke-width="1.2"/>
<line x1="174.1" y1="433.3" x2="176.0" y2="433.3" stroke="#000" stroke-width="1.2"/>
<line x1="174.1" y1="429.0" x2="176.0" y2="429.0" stroke="#000" stroke-width="1.2"/>
<line x1="174.1" y1="424.8" x2="176.0" y2="424.8" stroke="#000" stroke-width="1.2"/>
<line x1="172.2" y1="420.5" x2="176.0" y2="420.5" stroke="#000" stroke-width="1.2"/>
<line x1="176.0" y1="505.6" x2="176.0" y2="507.8" stroke="#000" stroke-width="1.2"/>
<line x1="190.3" y1="505.6" x2="190.3" y2="507.8" stroke="#000" stroke-width="1.2"/>
<line x1="197.0" y1="505.6" x2="197.0" y2="507.8" stroke="#000" stroke-width="1.2"/>
<line x1="212.4" y1="505.6" x2="212.4" y2="507.8" stroke="#000" stroke-width="1.2"/>
<line x1="219.1" y1="505.6" x2="219.1" y2="507.8" stroke="#000" stroke-width="1.2"/>
<line x1="234.5" y1="505.6" x2="234.5" y2="507.8" stroke="#000" stroke-width="1.2"/>
<line x1="241.2" y1="505.6" x2="241.2" y2="507.8" stroke="#000" stroke-width="1.2"/>
<line x1="256.6" y1="505.6" x2="256.6" y2="507.8" stroke="#000" stroke-width="1.2"/>
<line x1="263.3" y1="505.6" x2="263.3" y2="507.8" stroke="#000" stroke-width="1.2"/>
<text transform="translate(3.9,20.5) scale(1,1.0)" font-size="24.5" font-weight="bold" text-anchor="start" >A</text>
<text transform="translate(293.2,20.5) scale(1,1.0)" font-size="24.5" font-weight="bold" text-anchor="start" >B</text>
<text transform="translate(50.6,18.2) scale(1,1.0)" font-size="18" font-weight="normal" text-anchor="start" >Normal</text>
<text transform="translate(203.0,18.0) scale(1,1.0)" font-size="18" font-weight="normal" text-anchor="start" >EDI</text>
<text transform="translate(128.4,76.3) scale(1,1.0)" font-size="15.5" font-weight="normal" text-anchor="start" >CD40</text>
<text transform="translate(128.4,177.9) scale(1,1.0)" font-size="15.5" font-weight="normal" text-anchor="start" >CD54</text>
<text transform="translate(128.4,274.2) scale(1,1.0)" font-size="15.5" font-weight="normal" text-anchor="start" >CD80</text>
<text transform="translate(128.4,373.0) scale(1,1.0)" font-size="15.5" font-weight="normal" text-anchor="start" >CD83</text>
<text transform="translate(128.4,472.9) scale(1,1.0)" font-size="15.5" font-weight="normal" text-anchor="start" >CD86</text>
<text transform="translate(95.9,536.9) scale(1,1.0)" font-size="15.5" font-weight="normal" text-anchor="start" >Medium</text>
<text transform="translate(95.9,552.5) scale(1,1.0)" font-size="15.5" font-weight="normal" text-anchor="start" >LPS</text>
<text transform="translate(192.9,537.2) scale(1,1.0)" font-size="15.5" font-weight="normal" text-anchor="start" >CD40L</text>
<text transform="translate(192.9,552.5) scale(1,1.0)" font-size="15.5" font-weight="normal" text-anchor="start" >CD40L+IFN-&#947;</text>
<line x1="60" y1="534.4" x2="87.7" y2="534.4" stroke="#8a8a8a" stroke-width="2.6"/>
<line x1="60" y1="549.8" x2="87.7" y2="549.8" stroke="#1cb01c" stroke-width="2.6"/>
<line x1="157.5" y1="534.4" x2="183.7" y2="534.4" stroke="#0808d8" stroke-width="2.6"/>
<line x1="157.5" y1="549.6" x2="183.7" y2="549.6" stroke="#e01414" stroke-width="2.6"/>
<line x1="25.3" y1="523.6" x2="25.3" y2="456" stroke="#000" stroke-width="2.5"/>
<polygon points="24.9,448.8 30.6,458.7 19.4,458.7" fill="#000"/>
<line x1="19" y1="516.6" x2="86" y2="516.6" stroke="#000" stroke-width="2.4"/>
<polygon points="93.8,516.5 83.8,510.8 83.8,522.1" fill="#000"/>
<text x="0" y="0" font-size="15.8" text-anchor="middle" transform="translate(15.3,476.6) rotate(-90) scale(1,1.0)">% of Max.</text>
<text transform="translate(29.5,537.2) scale(1,1.0)" font-size="15" font-weight="normal" text-anchor="start" >Fl</text>
<line x1="335.2" y1="23.8" x2="335.2" y2="170.4" stroke="#000" stroke-width="2"/>
<line x1="331.5" y1="24.6" x2="335.2" y2="24.6" stroke="#000" stroke-width="1.6"/>
<text transform="translate(329.3,28.3) scale(1,1.0)" font-size="10.5" text-anchor="end" style="stroke-width:0.12px">10</text>
<line x1="331.5" y1="60.8" x2="335.2" y2="60.8" stroke="#000" stroke-width="1.6"/>
<text transform="translate(329.3,64.5) scale(1,1.0)" font-size="10.5" text-anchor="end" style="stroke-width:0.12px">7.5</text>
<line x1="331.5" y1="97.1" x2="335.2" y2="97.1" stroke="#000" stroke-width="1.6"/>
<text transform="translate(329.3,100.8) scale(1,1.0)" font-size="10.5" text-anchor="end" style="stroke-width:0.12px">5</text>
<line x1="331.5" y1="133.3" x2="335.2" y2="133.3" stroke="#000" stroke-width="1.6"/>
<text transform="translate(329.3,137.0) scale(1,1.0)" font-size="10.5" text-anchor="end" style="stroke-width:0.12px">2.5</text>
<line x1="331.5" y1="169.6" x2="335.2" y2="169.6" stroke="#000" stroke-width="1.6"/>
<text transform="translate(329.3,173.3) scale(1,1.0)" font-size="10.5" text-anchor="end" style="stroke-width:0.12px">0</text>
<line x1="331.5" y1="169.5" x2="518.5" y2="169.5" stroke="#000" stroke-width="1.8"/>
<text x="0" y="0" font-size="13.6" text-anchor="middle" transform="translate(309.0,90.4) rotate(-90) scale(1,1.0)">mg/mL</text>
<rect x="353" y="166.2" width="22.3" height="3.3000000000000114" fill="#9f9f9f"/>
<line x1="363.9" y1="163.7" x2="363.9" y2="166.2" stroke="#000" stroke-width="1.8"/>
<line x1="357.5" y1="163.7" x2="370.5" y2="163.7" stroke="#000" stroke-width="1.8"/>
<rect x="444" y="50" width="23.1" height="119.5" fill="#9f9f9f"/>
<line x1="455.4" y1="26" x2="455.4" y2="50" stroke="#000" stroke-width="1.8"/>
<line x1="448.8" y1="26" x2="461.7" y2="26" stroke="#000" stroke-width="1.8"/>
<rect x="478.6" y="167" width="23.1" height="2.5" fill="#000"/>
<line x1="490.5" y1="165" x2="490.5" y2="167" stroke="#000" stroke-width="1.6"/>
<line x1="484.2" y1="165" x2="496.9" y2="165" stroke="#000" stroke-width="1.6"/>
<rect x="342.5" y="24.9" width="14.8" height="5.3" fill="#9f9f9f"/>
<rect x="342.5" y="41" width="14.8" height="5.7" fill="#000"/>
<text transform="translate(361.5,32.8) scale(1,1.0)" font-size="12.5">Normal</text>
<text transform="translate(361.5,47.9) scale(1,1.0)" font-size="12.5">EDI</text>
<text transform="translate(361.1,183.0) scale(1,1.0)" font-size="12.3">CD40L</text>
<text transform="translate(433.8,183.4) scale(1,1.0)" font-size="12.3">CD40L+IFN-&#947;</text>
</svg>
</body></html>
